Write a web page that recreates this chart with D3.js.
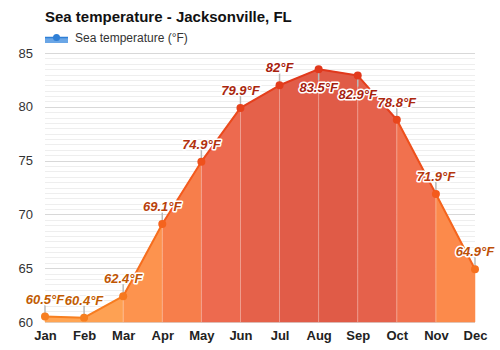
<!DOCTYPE html>
<html>
<head>
<meta charset="utf-8">
<script src="https://cdn.jsdelivr.net/npm/d3@7"></script>
<style>
body{margin:0;background:#fff;}
svg{display:block;font-family:"Liberation Sans",Arial,sans-serif;}
</style>
</head>
<body>
<div id="wrapper"></div>
<script>
// Data
const months = ["Jan","Feb","Mar","Apr","May","Jun","Jul","Aug","Sep","Oct","Nov","Dec"];
const seaTemp = [60.5,60.4,62.4,69.1,74.9,79.9,82,83.5,82.9,78.8,71.9,64.9];
const tempLabels = ["60.5°F","60.4°F","62.4°F","69.1°F","74.9°F","79.9°F","82°F","83.5°F","82.9°F","78.8°F","71.9°F","64.9°F"];
const labelBelow = [false,false,false,false,false,false,false,true,true,false,false,false];
const yTicks = [60,65,70,75,80,85];

// Dimension
const dimension = {width:500,height:350,margin:{top:53,bottom:28,left:45,right:25}};
dimension.boundedWidth = dimension.width-dimension.margin.left-dimension.margin.right;
dimension.boundedHeight = dimension.height-dimension.margin.top-dimension.margin.bottom;

// Scales
const xScale = d3.scalePoint().domain(months).range([0,dimension.boundedWidth]);
const yScale = d3.scaleLinear().domain([60,85]).range([dimension.boundedHeight,0]);
const fillColor = d3.scaleLinear().domain([60,70,77,84]).range(["#ffa655","#fb8549","#ee6b50","#de5946"]);
const lineColor = d3.scaleLinear().domain([60,72,84]).range(["#f78020","#f45a1c","#e0361c"]);
const textColor = d3.scaleLinear().domain([60,72,84]).range(["#c25d00","#b5380e","#a51c0e"]);

// Canvas
const svg = d3.select("#wrapper").append("svg")
  .attr("width",dimension.width).attr("height",dimension.height);

svg.append("text").attr("x",45).attr("y",22)
  .attr("font-size","15px").attr("font-weight","bold").attr("fill","#111")
  .text("Sea temperature - Jacksonville, FL");

// Legend
const legend = svg.append("g");
legend.append("rect").attr("x",45).attr("y",37).attr("width",23).attr("height",6).attr("fill","#6aa6e6");
legend.append("line").attr("x1",45).attr("x2",68).attr("y1",37.5).attr("y2",37.5).attr("stroke","#2f7fd6").attr("stroke-width",1.5);
legend.append("circle").attr("cx",56.5).attr("cy",37.5).attr("r",3.5).attr("fill","#2f7fd6");
legend.append("text").attr("x",75).attr("y",42).attr("font-size","12px").attr("fill","#333")
  .text("Sea temperature (°F)");

const bounded = svg.append("g")
  .attr("transform",`translate(${dimension.margin.left},${dimension.margin.top})`);

// Grid
const minor = d3.range(60,85.01,0.5);
bounded.append("g").selectAll("line").data(minor).join("line")
  .attr("x1",0).attr("x2",dimension.boundedWidth)
  .attr("y1",d=>Math.round(yScale(d))+0.5).attr("y2",d=>Math.round(yScale(d))+0.5)
  .attr("stroke",d=>d%5===0?"#d8d8d8":"#eeeeee").attr("stroke-width",1);

// Y axis
const yAxis = bounded.append("g").attr("transform","translate(-12,0)")
  .call(d3.axisLeft(yScale).tickValues(yTicks).tickSize(0).tickPadding(0));
yAxis.select(".domain").remove();
yAxis.selectAll("text").attr("font-size","13px").attr("fill","#333")
  .attr("font-family","'Liberation Sans',Arial,sans-serif");

// X axis
const xAxis = bounded.append("g").attr("transform",`translate(0,${dimension.boundedHeight})`)
  .call(d3.axisBottom(xScale).tickSize(0).tickPadding(9));
xAxis.select(".domain").remove();
xAxis.selectAll("text").attr("font-size","13px").attr("font-weight","bold").attr("fill","#222")
  .attr("font-family","'Liberation Sans',Arial,sans-serif");

// Area bands
const pts = months.map((m,i)=>({m,v:seaTemp[i]}));
const segs = d3.pairs(pts);
const area = d3.area().x(d=>xScale(d.m)).y0(dimension.boundedHeight).y1(d=>yScale(d.v));
bounded.append("g").selectAll("path").data(segs).join("path")
  .attr("d",d=>area(d))
  .attr("fill",d=>fillColor((d[0].v+d[1].v)/2))
  .attr("stroke",d=>fillColor((d[0].v+d[1].v)/2)).attr("stroke-width",0.5);

// Month separators
bounded.append("g").selectAll("line").data(pts.slice(1,-1)).join("line")
  .attr("x1",d=>xScale(d.m)).attr("x2",d=>xScale(d.m))
  .attr("y1",d=>yScale(d.v)).attr("y2",dimension.boundedHeight)
  .attr("stroke","rgba(255,255,255,0.35)").attr("stroke-width",1);

// Line
bounded.append("g").selectAll("line").data(segs).join("line")
  .attr("x1",d=>xScale(d[0].m)).attr("y1",d=>yScale(d[0].v))
  .attr("x2",d=>xScale(d[1].m)).attr("y2",d=>yScale(d[1].v))
  .attr("stroke",d=>lineColor((d[0].v+d[1].v)/2)).attr("stroke-width",2)
  .attr("stroke-linecap","round");

// Leaders
bounded.append("g").selectAll("line").data(pts).join("line")
  .attr("x1",d=>xScale(d.m)).attr("x2",d=>xScale(d.m))
  .attr("y1",d=>yScale(d.v))
  .attr("y2",(d,i)=>yScale(d.v)+(labelBelow[i]?11:-12))
  .attr("stroke","#b8b8b8").attr("stroke-width",1.5);

// Points
bounded.append("g").selectAll("circle").data(pts).join("circle")
  .attr("cx",d=>xScale(d.m)).attr("cy",d=>yScale(d.v)).attr("r",4)
  .attr("fill",d=>lineColor(d.v));

// Value labels
bounded.append("g").selectAll("text").data(pts).join("text")
  .attr("x",d=>xScale(d.m))
  .attr("y",(d,i)=>yScale(d.v)+(labelBelow[i]?23:-13))
  .attr("text-anchor","middle").attr("font-size","13px")
  .attr("font-weight","bold").attr("font-style","italic")
  .attr("fill",d=>textColor(d.v))
  .attr("stroke","#fff").attr("stroke-width",3).attr("stroke-linejoin","round")
  .attr("paint-order","stroke")
  .text((d,i)=>tempLabels[i]);
</script>
</body>
</html>
